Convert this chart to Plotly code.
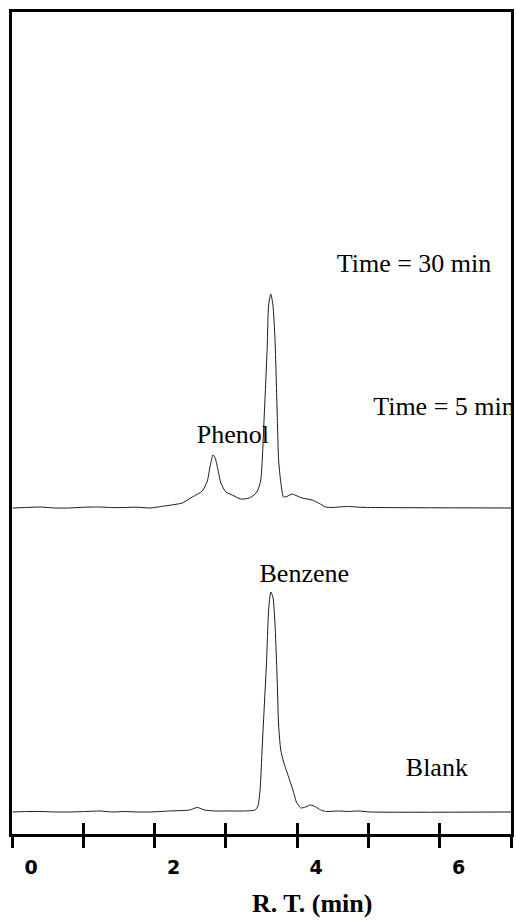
import plotly.graph_objects as go

# Retention time (min) and detector signal (a.u., relative to each trace's baseline)
rt_upper = [0.01, 0.20, 0.39, 0.60, 0.81, 1.02, 1.23, 1.40, 1.58, 1.75, 1.93, 2.14, 2.30, 2.39,
            2.53, 2.67, 2.74, 2.78, 2.82, 2.85, 2.89, 2.93, 3.00, 3.09, 3.21, 3.33, 3.41, 3.45,
            3.49, 3.54, 3.58, 3.60, 3.63, 3.66, 3.69, 3.72, 3.74, 3.77, 3.81, 3.87, 3.93, 4.00,
            4.07, 4.21, 4.30, 4.35, 4.40, 4.49, 4.58, 4.72, 4.86, 5.03, 7.00]
sig_upper = [0.00, 0.06, 0.12, 0.00, 0.00, 0.10, 0.12, 0.05, 0.06, 0.10, 0.00, 0.24, 0.45, 0.61,
             1.34, 2.07, 3.28, 5.11, 6.45, 6.08, 4.62, 3.04, 1.95, 1.58, 1.09, 1.22, 1.70, 2.19,
             3.41, 11.56, 19.59, 24.70, 26.03, 24.70, 20.44, 11.56, 5.84, 3.16, 1.34, 1.46, 1.70, 1.46,
             1.22, 0.97, 0.61, 0.36, 0.12, 0.06, 0.12, 0.18, 0.10, 0.06, 0.00]

rt_lower = [0.01, 0.20, 0.39, 0.60, 0.81, 1.02, 1.23, 1.40, 1.58, 1.75, 1.93, 2.21, 2.49, 2.60,
            2.70, 2.84, 3.05, 3.26, 3.41, 3.45, 3.48, 3.51, 3.54, 3.57, 3.60, 3.63, 3.66, 3.69,
            3.72, 3.74, 3.77, 3.81, 3.88, 3.94, 3.99, 4.05, 4.12, 4.19, 4.26, 4.33, 4.40, 4.58,
            4.72, 4.86, 5.03, 7.00]
sig_lower = [0.00, 0.05, 0.06, 0.00, 0.00, 0.05, 0.12, 0.00, 0.05, 0.00, 0.00, 0.12, 0.24, 0.55,
             0.24, 0.12, 0.12, 0.12, 0.24, 0.73, 2.68, 7.91, 13.02, 18.13, 24.57, 26.76, 26.16, 22.75,
             16.06, 10.58, 7.54, 6.08, 4.26, 2.68, 1.22, 0.49, 0.61, 0.85, 0.61, 0.24, 0.06, 0.12,
             0.06, 0.12, 0.00, 0.00]

offset_upper = 39.66
offset_lower = 2.68

tick_vals = [0, 1, 2, 3, 4, 5, 6, 7]
tick_text = ["0", "", "2", "", "4", "", "6", ""]

label_text = ["Time = 30 min", "Time = 5 min", "Phenol", "Benzene", "Blank"]
label_x = [5.64, 6.06, 3.10, 4.10, 5.96]
label_y = [69.2, 51.8, 48.3, 31.4, 7.8]

line_style = dict(color="#1a1a1a", width=1, shape="spline", smoothing=0.6)

fig = go.Figure()
fig.add_trace(go.Scatter(x=rt_upper, y=[v + offset_upper for v in sig_upper], mode="lines",
                         line=line_style, showlegend=False, hoverinfo="skip"))
fig.add_trace(go.Scatter(x=rt_lower, y=[v + offset_lower for v in sig_lower], mode="lines",
                         line=line_style, showlegend=False, hoverinfo="skip"))
fig.add_trace(go.Scatter(x=label_x, y=label_y, mode="text", text=label_text,
                         textposition="middle center", cliponaxis=True,
                         textfont=dict(family="Liberation Serif", size=26, color="black"),
                         showlegend=False, hoverinfo="skip"))
fig.add_trace(go.Scatter(x=[None], y=[None], xaxis="x2", showlegend=False, hoverinfo="skip"))

fig.update_layout(
    width=516, height=922,
    margin=dict(l=12, r=2, t=12, b=88),
    paper_bgcolor="white", plot_bgcolor="white",
    xaxis=dict(range=[0, 7], showgrid=False, zeroline=False,
               showline=True, mirror=True, linewidth=3, linecolor="black",
               ticks="outside", ticklen=11, tickwidth=3, tickcolor="black",
               tickvals=tick_vals, ticktext=tick_text, ticklabelshift=19,
               ticklabelstandoff=3,
               tickfont=dict(family="DejaVu Sans", size=19, color="black", weight="bold")),
    xaxis2=dict(range=[0, 7], overlaying="x", anchor="y", side="bottom",
                showgrid=False, zeroline=False, showline=False,
                ticks="inside", ticklen=11, tickwidth=3, tickcolor="black",
                tickvals=tick_vals, showticklabels=False),
    yaxis=dict(range=[0, 100], showgrid=False, zeroline=False,
               showline=True, mirror=True, linewidth=3, linecolor="black",
               showticklabels=False, ticks=""),
    annotations=[dict(text="<b>R. T. (min)</b>", xref="paper", yref="paper",
                      x=0.602, y=-0.084, xanchor="center", yanchor="middle", showarrow=False,
                      font=dict(family="Liberation Serif", size=26, color="black"))],
)

fig.write_html("out.html", config={"displayModeBar": False},
               post_script="document.body.style.margin='0';document.body.style.overflow='hidden';")
